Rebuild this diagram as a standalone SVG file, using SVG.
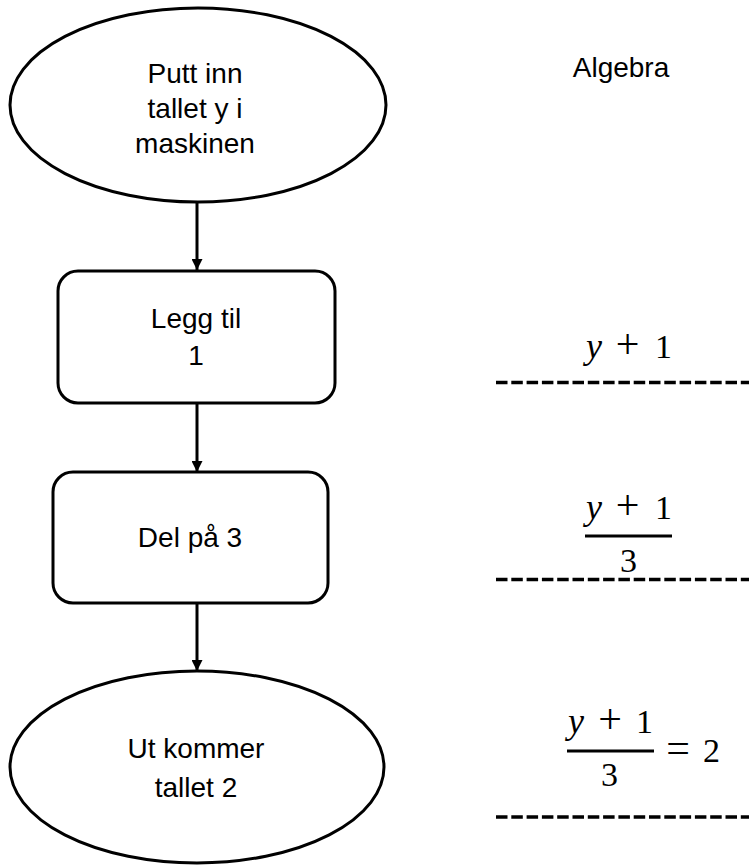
<svg xmlns="http://www.w3.org/2000/svg" width="749" height="865" viewBox="0 0 749 865">
  <style>
    .shape { fill: #ffffff; stroke: #000000; stroke-width: 3; }
    .label { font-family: "Liberation Sans", Arial, sans-serif; font-size: 28px; fill: #000000; text-anchor: middle; }
    .math { font-family: "Liberation Serif", "Times New Roman", serif; font-size: 34px; fill: #000000; text-anchor: middle; }
    .var { font-style: italic; font-size: 36px; }
    .op { font-size: 42px; }
    .bar { stroke: #000000; stroke-width: 3; }
    .rule { stroke: #000000; stroke-width: 3.5; stroke-dasharray: 11.5 3.8; fill: none; }
    .edge { stroke: #000000; stroke-width: 3; fill: none; }
  </style>
  <defs>
    <marker id="arrow" markerWidth="11" markerHeight="11" refX="11" refY="5.5" orient="auto" markerUnits="userSpaceOnUse">
      <path d="M0,0 L11,5.5 L0,11 Z" fill="#000000"/>
    </marker>
  </defs>

  <rect width="749" height="865" fill="#ffffff"/>

  <!-- flow connectors -->
  <g id="connectors">
    <line class="edge" x1="197" y1="202" x2="197" y2="270" marker-end="url(#arrow)"/>
    <line class="edge" x1="197" y1="403" x2="197" y2="472" marker-end="url(#arrow)"/>
    <line class="edge" x1="197" y1="603" x2="197" y2="671" marker-end="url(#arrow)"/>
  </g>

  <g id="start">
    <ellipse class="shape" cx="198" cy="105" rx="188" ry="97"/>
    <text class="label" x="195" y="83">Putt inn</text>
    <text class="label" x="195" y="118">tallet y i</text>
    <text class="label" x="195" y="153">maskinen</text>
  </g>

  <g id="add-one">
    <rect class="shape" x="58" y="271" width="277" height="132" rx="20" ry="20"/>
    <text class="label" x="196" y="328">Legg til</text>
    <text class="label" x="196" y="365">1</text>
  </g>

  <g id="divide">
    <rect class="shape" x="53" y="472" width="275" height="131" rx="20" ry="20"/>
    <text class="label" x="190" y="547">Del på 3</text>
  </g>

  <g id="end">
    <ellipse class="shape" cx="197" cy="767" rx="187" ry="96"/>
    <text class="label" x="196" y="758">Ut kommer</text>
    <text class="label" x="196" y="797">tallet 2</text>
  </g>

  <!-- algebra column -->
  <g id="algebra">
    <text class="label" x="621" y="77">Algebra</text>

    <text class="math" y="358"><tspan class="var" x="594">y</tspan><tspan class="op" x="627.5">+</tspan><tspan x="663.5">1</tspan></text>
    <line class="rule" x1="496" y1="382.5" x2="749" y2="382.5"/>

    <text class="math" y="519"><tspan class="var" x="594">y</tspan><tspan class="op" x="627.5">+</tspan><tspan x="663.5">1</tspan></text>
    <line class="bar" x1="585" y1="536" x2="672" y2="536"/>
    <text class="math" x="628.5" y="572">3</text>
    <line class="rule" x1="496" y1="579.5" x2="749" y2="579.5"/>

    <text class="math" y="733"><tspan class="var" x="576">y</tspan><tspan class="op" x="610">+</tspan><tspan x="644.5">1</tspan></text>
    <line class="bar" x1="567" y1="751" x2="654" y2="751"/>
    <text class="math" x="609.5" y="786">3</text>
    <text class="math" y="762"><tspan class="op" x="678">=</tspan><tspan x="711.5">2</tspan></text>
    <line class="rule" x1="496" y1="817" x2="749" y2="817"/>
  </g>
</svg>
